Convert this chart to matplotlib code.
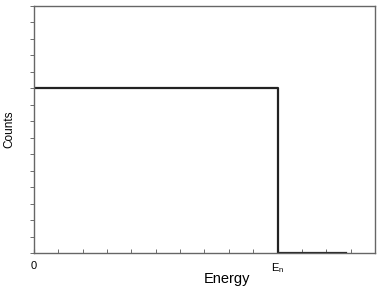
import matplotlib.pyplot as plt

plt.rcParams['font.family'] = ['Liberation Sans', 'DejaVu Sans']

# spectrum: flat counts up to the edge E_n, then zero
energy = [0, 10, 10, 12.8]
counts = [10, 10, 0, 0]
xtick_pos = [0, 10]
xtick_lab = ['0', '$\\mathregular{E_n}$']

fig = plt.figure(figsize=(3.86, 2.94), dpi=100)
ax = fig.add_axes([0.088, 0.139, 0.8835, 0.841])

ax.plot(energy, counts, color='#222222', linewidth=1.6)
ax.set_xlim(0, 14)
ax.set_ylim(0, 15)

ax.set_xticks(range(0, 15), minor=True)
ax.set_xticks(xtick_pos)
ax.set_xticklabels(xtick_lab, fontsize=8)
ax.set_yticks(range(0, 16), minor=True)
ax.set_yticks([])
ax.tick_params(axis='x', which='both', direction='in', length=3, color='#555555', pad=6)
ax.tick_params(axis='y', which='minor', direction='out', length=3, color='#555555')

for s in ax.spines.values():
    s.set_color('#666666')
    s.set_linewidth(1.0)

ax.set_xlabel('Energy', fontsize=10.5, labelpad=0)
ax.xaxis.set_label_coords(0.567, -0.075)
ax.set_ylabel('Counts', fontsize=8.5, labelpad=7)

plt.savefig('out.png')
